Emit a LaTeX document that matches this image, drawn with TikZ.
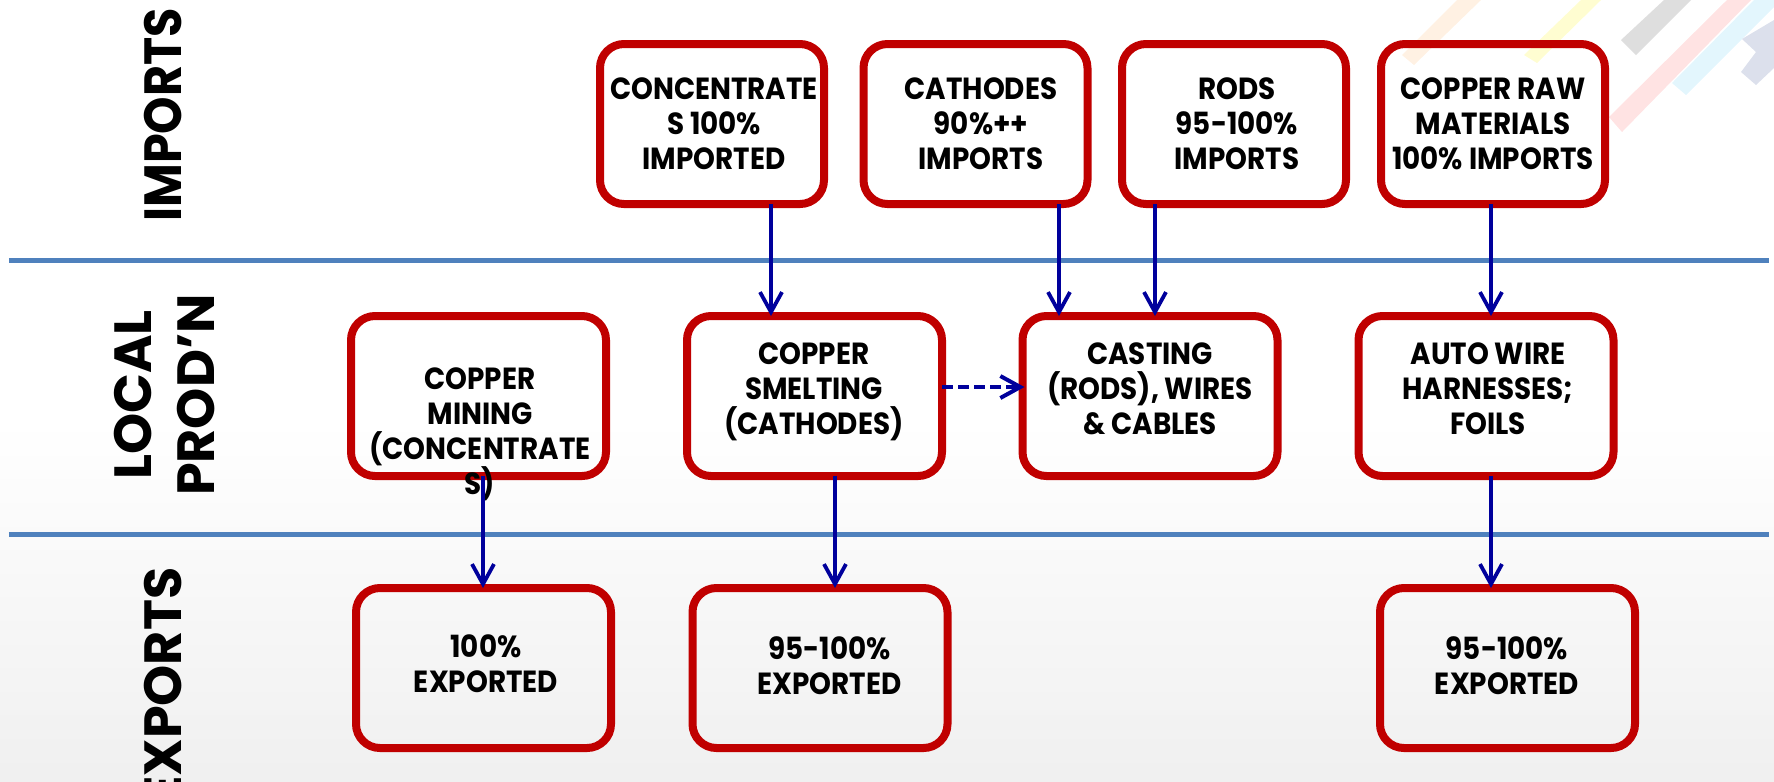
\documentclass[tikz,border=0pt]{standalone}
\usepackage{fontspec}
\usetikzlibrary{arrows.meta}
\newfontfamily\cellfont[FakeStretch=0.91]{Poppins}
\newfontfamily\sidefont{Poppins}
\newfontfamily\sidefontslim[FakeStretch=0.91]{Poppins}
\definecolor{cellred}{HTML}{C00000}
\definecolor{flowblue}{HTML}{00009C}
\definecolor{bandblue}{HTML}{4F81BD}
\definecolor{stripelilac}{HTML}{DCE0EC}
\tikzset{
    cell/.style={draw=cellred, line width=0.08cm, rounded corners=0.24cm, outer sep=0pt, inner sep=0pt, minimum height=1.6cm},
    cellA/.style={cell, minimum width=2.24cm},
    cellB/.style={cell, minimum width=2.55cm},
    celltext/.style={align=center, inner sep=0pt, font=\cellfont\bfseries\fontsize{8.7pt}{9.96pt}\selectfont},
    sidetext/.style={rotate=90, align=center, inner sep=0pt, font=\sidefont\bfseries\fontsize{14.9pt}{17.9pt}\selectfont},
    flow/.style={draw=flowblue, line width=0.038cm, -{Straight Barb[length=0.2cm,width=0.22cm]}},
    band/.style={draw=bandblue, line width=0.045cm},
}
\begin{document}
\begin{tikzpicture}
    \useasboundingbox (0,0) rectangle (17.74,-7.81);
    \clip (0,0) rectangle (17.74,-7.81);
    \shade [top color=white, bottom color=black!6] (0,-4.2) rectangle (17.74,-7.81);

    \fill [orange!11] (14.02,-0.55) -- (14.14,-0.65) -- (14.81,0) -- (14.57,0) -- cycle;
    \fill [yellow!18] (15.24,-0.55) -- (15.37,-0.63) -- (16.01,0) -- (15.81,0) -- cycle;
    \fill [black!13] (16.21,-0.40) -- (16.36,-0.55) -- (16.91,0) -- (16.64,0) -- cycle;
    \fill [red!11] (16.09,-1.17) -- (16.22,-1.32) -- (17.51,0) -- (17.27,0) -- cycle;
    \fill [cyan!11] (16.72,-0.83) -- (16.86,-0.95) -- (17.74,-0.07) -- (17.74,0) -- (17.54,0) -- cycle;
    \fill [stripelilac] (17.41,-0.72) -- (17.56,-0.85) -- (17.74,-0.68) -- (17.74,-0.20) -- (17.42,-0.39) -- (17.56,-0.52) -- cycle;

    \coordinate (bandAleft) at (0.09,-2.605);
    \coordinate (bandAright) at (17.69,-2.605);
    \coordinate (bandBleft) at (0.09,-5.345);
    \coordinate (bandBright) at (17.69,-5.345);
    \draw[band] (bandAleft) -- (bandAright);
    \draw[band] (bandBleft) -- (bandBright);

    \node[sidetext, font=\sidefontslim\bfseries\fontsize{14.9pt}{17.9pt}\selectfont] (importsLabel) at (1.63,-1.15) {IMPORTS};
    \node[sidetext] (localLabel) at (1.645,-3.95) {LOCAL\\PROD’N};
    \node[sidetext, anchor=east] (exportsLabel) at (1.63,-5.67) {EXPORTS};

    \node[cellA] (concentrates) at (7.12,-1.24) {};
    \node[cellA] (cathodes) at (9.755,-1.24) {};
    \node[cellA] (rods) at (12.34,-1.24) {};
    \node[cellA] (rawmat) at (14.93,-1.24) {};

    \node[cellB] (mining) at (4.785,-3.96) {};
    \node[cellB] (smelting) at (8.145,-3.96) {};
    \node[cellB] (casting) at (11.50,-3.96) {};
    \node[cellB] (harness) at (14.86,-3.96) {};

    \node[cellB] (expMining) at (4.835,-6.68) {};
    \node[cellB] (expSmelting) at (8.20,-6.68) {};
    \node[cellB] (expHarness) at (15.075,-6.68) {};

    \node[celltext] (concentratesText) at (7.14,-1.24) {CONCENTRATE\\S 100\%\\IMPORTED};
    \node[celltext] (cathodesText) at (9.81,-1.24) {CATHODES\\90\%++\\IMPORTS};
    \node[celltext] (rodsText) at (12.37,-1.24) {RODS\\95-100\%\\IMPORTS};
    \node[celltext] (rawmatText) at (14.93,-1.24) {COPPER RAW\\MATERIALS\\100\% IMPORTS};

    \node[celltext] (miningText) at (4.80,-4.34) {COPPER\\MINING\\(CONCENTRATE\\S)};
    \node[celltext] (smeltingText) at (8.14,-3.915) {COPPER\\SMELTING\\(CATHODES)};
    \node[celltext] (castingText) at (11.50,-3.885) {CASTING\\(RODS), WIRES\\\& CABLES};
    \node[celltext] (harnessText) at (14.88,-3.885) {AUTO WIRE\\HARNESSES;\\FOILS};

    \node[celltext] (expMiningText) at (4.86,-6.64) {100\%\\EXPORTED};
    \node[celltext] (expSmeltingText) at (8.295,-6.66) {95-100\%\\EXPORTED};
    \node[celltext] (expHarnessText) at (15.07,-6.66) {95-100\%\\EXPORTED};

    \draw[flow] ([xshift=0.59cm]concentrates.south) -- ([xshift=-0.435cm]smelting.north);
    \draw[flow] ([xshift=0.835cm]cathodes.south) -- ([xshift=-0.91cm]casting.north);
    \draw[flow] ([xshift=-0.79cm]rods.south) -- ([xshift=0.05cm]casting.north);
    \draw[flow] ([xshift=-0.02cm]rawmat.south) -- ([xshift=0.05cm]harness.north);
    \draw[flow] ([xshift=0.045cm]mining.south) -- ([xshift=-0.005cm]expMining.north);
    \draw[flow] ([xshift=0.205cm]smelting.south) -- ([xshift=0.15cm]expSmelting.north);
    \draw[flow] ([xshift=0.05cm]harness.south) -- ([xshift=-0.165cm]expHarness.north);
    \draw[flow, line width=0.04cm, dash pattern=on 0.11cm off 0.05cm] ([yshift=0.09cm]smelting.east) -- ([xshift=0.02cm,yshift=0.09cm]casting.west);
\end{tikzpicture}
\end{document}
